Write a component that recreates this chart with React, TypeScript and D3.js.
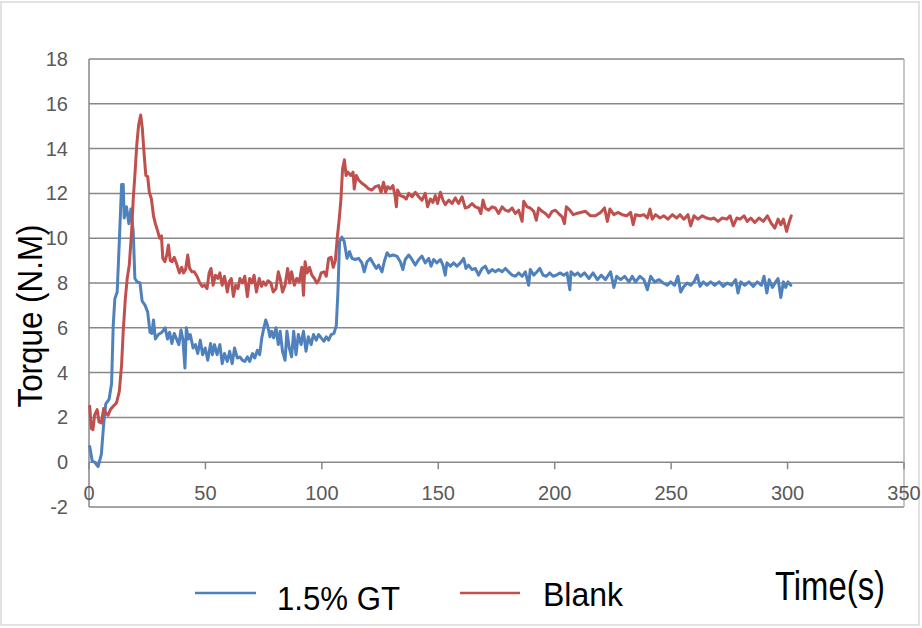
import * as d3 from "d3";

// time (s) and torque (N.M)
const gtTime = [
  0.3, 1.4, 2.4, 3.9, 5.3, 6.3, 7.2, 8.6, 9.7, 10.4, 11.1, 12.1, 13.0, 14.0, 14.7, 15.1, 16.1, 17.1, 18.0, 19.0,
  19.7, 20.7, 21.9, 22.8, 24.1, 25.2, 26.2, 27.0, 27.7, 28.5, 29.8, 31.3, 32.7, 33.7, 34.6, 35.6, 36.6, 37.8, 38.6, 39.5,
  40.3, 41.2, 41.8, 42.7, 43.5, 44.7, 45.7, 46.7, 47.8, 48.8, 49.9, 51.0, 52.2, 53.0, 53.9, 55.0, 56.2, 57.2, 58.2, 59.4,
  60.4, 61.5, 62.5, 63.7, 64.8, 65.9, 66.9, 68.0, 69.0, 70.2, 71.2, 72.3, 73.3, 74.2, 74.9, 75.9, 76.7, 77.7, 78.4, 79.3,
  80.3, 81.3, 82.1, 83.1, 84.2, 85.0, 86.0, 87.0, 87.9, 88.9, 89.9, 91.1, 92.1, 93.2, 94.2, 95.4, 96.4, 97.6, 98.6, 99.7,
  100.9, 101.9, 102.9, 104.0, 105.2, 106.2, 106.9, 107.6, 108.6, 109.6, 110.8, 111.9, 112.9, 114.3, 115.8, 117.2, 118.2, 119.4, 120.8, 121.9,
  123.4, 124.4, 125.8, 126.8, 128.0, 129.1, 130.5, 132.2, 133.7, 134.8, 135.8, 137.3, 138.7, 140.1, 141.6, 143.0, 144.4, 145.9, 146.9, 148.0,
  149.4, 150.9, 152.0, 153.0, 153.7, 155.2, 156.6, 158.0, 159.5, 160.9, 161.9, 163.0, 164.5, 165.9, 167.3, 168.8, 170.2, 171.6, 173.1, 174.5,
  175.9, 177.4, 178.8, 180.2, 181.7, 183.1, 184.5, 186.0, 187.4, 188.8, 189.5, 191.0, 192.4, 193.6, 195.0, 196.4, 197.9, 199.3, 200.7, 202.2,
  203.9, 205.3, 206.5, 207.0, 208.5, 209.9, 211.1, 212.8, 214.7, 216.5, 218.3, 220.0, 221.8, 224.0, 225.4, 226.6, 228.3, 230.0, 231.9, 233.3,
  234.7, 236.6, 238.3, 239.8, 241.2, 242.9, 244.8, 246.6, 248.4, 249.8, 251.5, 252.9, 254.1, 255.5, 256.9, 258.4, 259.8, 261.2, 262.4, 263.8,
  265.3, 267.0, 268.7, 270.6, 272.4, 274.1, 275.9, 277.7, 278.7, 279.9, 281.6, 283.4, 285.3, 287.0, 288.8, 289.9, 291.1, 292.1, 293.5, 294.9,
  295.9, 297.1, 298.2, 299.2, 300.2, 301.4,
];
const gtTorque = [
  0.7, 0.05, 0.0, -0.2, 0.35, 1.7, 2.6, 2.8, 3.5, 6.1, 7.3, 7.6, 9.8, 12.4, 12.4, 10.9, 11.4, 10.65, 11.3, 10.3,
  8.2, 8.05, 8.0, 7.2, 7.0, 6.7, 5.8, 5.75, 6.35, 5.5, 5.7, 5.8, 6.0, 5.5, 5.8, 5.3, 5.75, 5.45, 5.25, 5.9,
  5.5, 4.2, 6.0, 5.5, 5.7, 5.1, 5.25, 4.85, 5.45, 4.8, 5.1, 4.55, 5.3, 4.8, 5.25, 4.8, 5.25, 4.4, 4.85, 4.5,
  4.95, 4.4, 5.1, 4.65, 4.7, 4.55, 4.5, 4.7, 4.5, 4.85, 4.65, 5.0, 4.8, 5.55, 5.9, 6.35, 6.1, 5.6, 5.85, 5.55,
  6.0, 5.25, 5.85, 4.95, 4.55, 5.85, 5.1, 4.7, 5.85, 4.8, 5.7, 5.25, 5.85, 4.95, 5.6, 5.25, 5.7, 5.45, 5.7, 5.55,
  5.4, 5.6, 5.45, 5.7, 5.75, 6.1, 7.6, 9.85, 10.05, 9.85, 9.1, 9.4, 9.1, 9.05, 9.1, 8.9, 8.5, 8.95, 9.1, 8.9,
  8.65, 8.8, 8.5, 8.95, 9.35, 9.2, 9.25, 9.2, 8.95, 8.6, 9.05, 9.25, 9.05, 8.8, 9.05, 9.2, 8.9, 9.1, 8.75, 9.05,
  8.9, 9.05, 8.8, 8.35, 8.9, 8.75, 8.9, 8.75, 8.9, 9.1, 8.65, 8.8, 8.6, 8.65, 8.35, 8.65, 8.75, 8.45, 8.6, 8.5,
  8.6, 8.5, 8.65, 8.5, 8.35, 8.3, 8.45, 8.3, 8.5, 7.9, 8.6, 8.35, 8.5, 8.65, 8.35, 8.3, 8.45, 8.3, 8.35, 8.45,
  8.35, 8.45, 7.7, 8.5, 8.35, 8.45, 8.3, 8.45, 8.2, 8.45, 8.15, 8.35, 8.15, 8.5, 7.8, 8.3, 8.15, 8.3, 8.05, 8.3,
  8.05, 8.3, 8.15, 7.7, 8.3, 8.05, 8.15, 8.0, 7.9, 8.05, 7.9, 8.3, 7.6, 7.85, 8.0, 7.9, 8.05, 8.35, 7.85, 8.05,
  7.9, 8.05, 7.9, 8.05, 7.85, 8.0, 7.9, 8.15, 7.55, 8.05, 7.9, 8.05, 7.85, 8.05, 7.9, 8.3, 7.55, 8.15, 7.8, 8.05,
  8.2, 7.35, 8.05, 7.8, 8.05, 7.9,
];

const blankTime = [
  0.3, 1.0, 1.7, 2.4, 3.5, 4.3, 5.3, 6.3, 7.2, 8.2, 9.2, 10.4, 11.8, 13.0, 14.0, 14.7, 15.6, 16.4, 17.3, 18.3,
  19.0, 19.7, 20.5, 21.3, 22.2, 22.9, 23.6, 24.4, 25.2, 25.9, 26.8, 27.7, 28.5, 29.4, 30.3, 31.1, 31.7, 32.6, 33.4, 34.1,
  34.9, 35.7, 36.6, 37.8, 38.8, 39.8, 40.6, 41.5, 42.4, 43.2, 44.2, 45.2, 46.4, 47.6, 48.6, 49.6, 50.7, 51.6, 52.4, 53.3,
  54.3, 55.3, 56.2, 57.2, 58.2, 59.4, 60.2, 61.1, 62.0, 63.0, 64.0, 64.8, 65.9, 66.9, 68.0, 69.0, 70.0, 70.9, 71.9, 73.1,
  74.1, 74.9, 75.9, 76.9, 78.1, 79.1, 80.3, 81.3, 82.1, 83.1, 84.2, 85.3, 86.2, 87.0, 88.2, 89.2, 90.3, 91.4, 92.1, 92.8,
  93.7, 94.7, 95.7, 96.8, 97.8, 98.8, 99.7, 100.9, 101.9, 102.9, 104.0, 104.9, 105.8, 106.6, 107.5, 108.2, 108.9, 109.7, 110.4, 111.2,
  112.4, 113.4, 113.9, 114.8, 115.8, 117.2, 118.6, 120.1, 121.5, 122.9, 124.4, 125.4, 126.5, 127.4, 128.2, 129.4, 130.5, 131.5, 132.0, 132.5,
  133.7, 135.1, 136.3, 137.3, 138.7, 140.1, 141.6, 143.0, 144.4, 145.4, 146.6, 147.7, 148.7, 149.7, 150.9, 152.0, 153.0, 154.5, 155.9, 157.3,
  158.7, 160.2, 161.6, 163.0, 164.5, 165.9, 167.3, 168.3, 169.2, 170.2, 171.6, 173.1, 174.5, 175.9, 177.4, 178.8, 180.2, 181.7, 183.1, 184.5,
  186.0, 186.7, 188.1, 189.5, 191.0, 192.1, 193.1, 194.6, 196.0, 197.4, 198.9, 200.3, 201.7, 203.2, 204.2, 205.0, 206.5, 207.9, 209.3, 211.1,
  213.2, 215.4, 217.5, 219.7, 221.4, 222.6, 223.7, 225.4, 227.1, 229.0, 230.9, 232.6, 233.7, 234.7, 236.6, 238.3, 239.8, 240.9, 241.9, 243.3,
  245.2, 246.9, 248.6, 250.5, 252.4, 253.8, 255.5, 257.2, 258.4, 259.8, 261.5, 263.4, 265.3, 267.0, 268.4, 270.1, 272.0, 273.9, 275.3, 276.7,
  278.2, 279.6, 281.3, 282.7, 284.2, 285.9, 287.7, 289.6, 291.3, 292.8, 294.5, 295.9, 297.1, 298.2, 299.6, 300.6, 301.6,
];
const blankTorque = [
  2.5, 1.5, 1.45, 2.1, 2.35, 1.8, 1.75, 2.4, 2.2, 2.1, 2.35, 2.5, 2.65, 3.15, 4.35, 5.85, 7.3, 8.2, 8.8, 10.3,
  11.75, 12.8, 14.15, 15.05, 15.5, 14.9, 13.85, 12.8, 12.75, 12.05, 11.75, 11.0, 10.65, 10.35, 10.0, 10.1, 9.1, 8.95, 9.25, 9.7,
  9.0, 8.95, 9.15, 8.8, 8.45, 8.7, 8.45, 8.6, 9.25, 8.65, 8.5, 8.5, 8.3, 8.0, 7.85, 7.9, 7.75, 8.45, 8.65, 7.9,
  8.35, 8.2, 8.45, 7.9, 8.3, 7.6, 8.05, 8.2, 7.4, 7.9, 7.75, 8.2, 8.0, 8.3, 7.4, 8.2, 8.0, 8.35, 7.6, 8.2,
  7.85, 8.05, 7.9, 8.1, 8.0, 7.6, 7.75, 8.5, 8.2, 7.6, 7.9, 8.65, 8.0, 8.5, 7.9, 8.2, 8.05, 8.7, 7.45, 8.95,
  8.45, 8.7, 8.35, 8.2, 8.0, 8.15, 8.45, 8.5, 8.3, 9.1, 9.15, 8.7, 9.0, 10.0, 10.9, 11.75, 13.1, 13.5, 12.8, 12.95,
  12.8, 12.95, 12.2, 12.8, 12.6, 12.45, 12.35, 12.2, 12.15, 12.3, 12.35, 12.05, 12.5, 12.05, 12.3, 12.2, 12.35, 11.85, 11.4, 12.15,
  11.9, 11.85, 11.75, 12.0, 11.85, 12.05, 11.85, 11.7, 12.0, 11.4, 11.75, 11.6, 11.9, 11.55, 12.05, 11.7, 11.5, 11.7, 11.55, 11.8,
  11.55, 11.85, 11.35, 11.4, 11.55, 11.4, 11.35, 11.1, 11.7, 11.35, 11.25, 11.4, 11.35, 11.1, 11.4, 11.25, 11.2, 11.35, 11.1, 11.25,
  10.75, 11.65, 11.4, 11.35, 11.2, 10.8, 11.35, 11.2, 11.1, 10.95, 11.2, 11.25, 11.1, 10.95, 10.65, 11.4, 11.25, 11.05, 11.1, 11.15,
  11.2, 11.0, 11.0, 11.15, 11.35, 10.75, 11.3, 11.05, 11.15, 11.05, 11.0, 11.15, 10.6, 11.05, 11.0, 11.05, 10.9, 11.3, 10.85, 11.05,
  10.9, 11.0, 10.85, 11.05, 10.9, 11.05, 10.85, 11.05, 10.55, 11.0, 10.85, 11.0, 10.9, 10.85, 10.9, 10.75, 10.9, 10.85, 11.0, 10.55,
  10.9, 10.85, 11.0, 10.75, 10.9, 10.7, 10.9, 10.75, 11.0, 10.7, 10.45, 10.85, 10.6, 10.85, 10.3, 10.7, 11.0,
];

const xTicks = [0, 50, 100, 150, 200, 250, 300, 350];
const yTicks = [-2, 0, 2, 4, 6, 8, 10, 12, 14, 16, 18];

const W = 922;
const H = 628;
const FONT = "'Liberation Sans', Arial, sans-serif";

export default function App() {
  const x = d3.scaleLinear().domain([0, 350]).range([89, 904]);
  const y = d3.scaleLinear().domain([-2, 18]).range([507, 59]);

  const line = d3
    .line<[number, number]>()
    .x((d) => x(d[0]))
    .y((d) => y(d[1]));

  const gt = gtTime.map((t, i) => [t, gtTorque[i]] as [number, number]);
  const blank = blankTime.map((t, i) => [t, blankTorque[i]] as [number, number]);

  return (
    <svg
      width={W}
      height={H}
      style={{ position: "absolute", left: 0, top: 0, display: "block", background: "#fff" }}
    >
      <rect x={1} y={2} width={918} height={623} fill="#fff" stroke="#d9d9d9" strokeWidth={1.5} />

      {/* gridlines */}
      {yTicks.map((v) => (
        <line key={v} x1={x(0)} x2={x(350)} y1={y(v)} y2={y(v)} stroke="#878787" strokeWidth={1.5} />
      ))}
      <line x1={x(350)} x2={x(350)} y1={y(18)} y2={y(-2)} stroke="#b3b3b3" strokeWidth={1.5} />
      <line x1={x(0)} x2={x(0)} y1={y(18)} y2={y(-2)} stroke="#878787" strokeWidth={1.5} />

      {/* x ticks hang from the zero line */}
      {xTicks.map((v) => (
        <line key={v} x1={x(v)} x2={x(v)} y1={y(0)} y2={y(0) + 7} stroke="#878787" strokeWidth={1.5} />
      ))}

      {yTicks.map((v) => (
        <text key={v} x={68} y={y(v)} dy="0.35em" textAnchor="end" fontFamily={FONT} fontSize={20} fill="#595959">
          {v}
        </text>
      ))}
      {xTicks.map((v) => (
        <text key={v} x={x(v)} y={493} dy="0.35em" textAnchor="middle" fontFamily={FONT} fontSize={20} fill="#595959">
          {v}
        </text>
      ))}

      <path d={line(gt) || ""} fill="none" stroke="#4F81BD" strokeWidth={3} strokeLinejoin="round" strokeLinecap="round" />
      <path d={line(blank) || ""} fill="none" stroke="#C0504D" strokeWidth={3} strokeLinejoin="round" strokeLinecap="round" />

      <text
        transform="translate(42,316) rotate(-90)"
        textAnchor="middle"
        fontFamily={FONT}
        fontSize={35}
        textLength={183}
        lengthAdjust="spacingAndGlyphs"
        fill="#000"
      >
        Torque (N.M)
      </text>

      {/* legend */}
      <line x1={195} x2={256} y1={593} y2={593} stroke="#4F81BD" strokeWidth={2.5} />
      <text x={277} y={610} fontFamily={FONT} fontSize={33} textLength={123} lengthAdjust="spacingAndGlyphs" fill="#000">
        1.5% GT
      </text>
      <line x1={460} x2={520} y1={593} y2={593} stroke="#C0504D" strokeWidth={2.5} />
      <text x={543} y={606} fontFamily={FONT} fontSize={33} textLength={80} lengthAdjust="spacingAndGlyphs" fill="#000">
        Blank
      </text>

      <text x={775} y={600} fontFamily={FONT} fontSize={41} textLength={110} lengthAdjust="spacingAndGlyphs" fill="#000">
        Time(s)
      </text>
    </svg>
  );
}
